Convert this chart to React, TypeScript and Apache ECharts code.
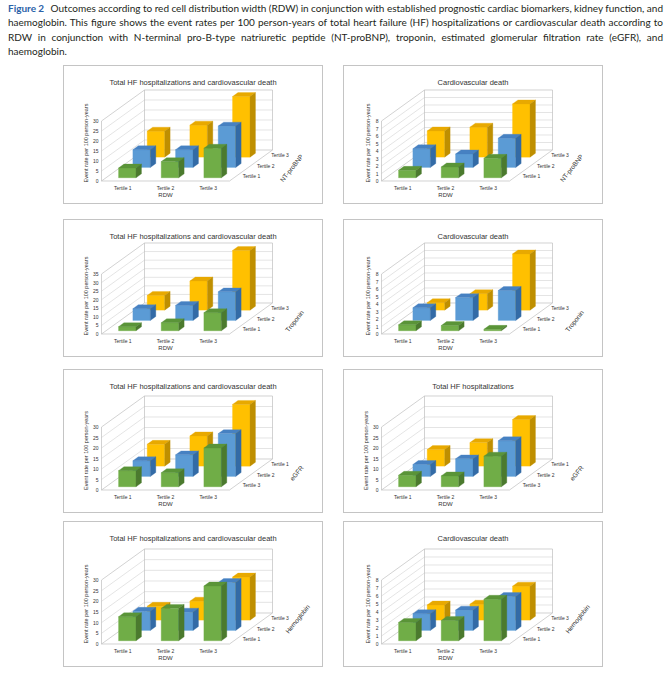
"use client"

import { useEffect, useLayoutEffect, useRef } from "react"
import * as echarts from "echarts"

// caption, one entry per printed line
const captionLines = [
  "Outcomes according to red cell distribution width (RDW) in conjunction with established prognostic cardiac biomarkers, kidney function, and",
  "haemoglobin. This figure shows the event rates per 100 person-years of total heart failure (HF) hospitalizations or cardiovascular death according to",
  "RDW in conjunction with N-terminal pro-B-type natriuretic peptide (NT-proBNP), troponin, estimated glomerular filtration rate (eGFR), and",
  "haemoglobin.",
]

const rdwTertiles = ["Tertile 1", "Tertile 2", "Tertile 3"]
// depth axis labels, listed front row first
const depthAscending = ["Tertile 1", "Tertile 2", "Tertile 3"]
const depthDescending = ["Tertile 3", "Tertile 2", "Tertile 1"]

const ticksTo30 = [0, 5, 10, 15, 20, 25, 30]
const ticksTo35 = [0, 5, 10, 15, 20, 25, 30, 35]
const ticksTo8 = [0, 1, 2, 3, 4, 5, 6, 7, 8]

// event rates per 100 person-years; rows front (green) to back (yellow), columns RDW tertile 1..3
const ntprobnpHfCv = [[4.9, 8.1, 14.8], [8.9, 8.9, 20.7], [13, 16, 30.3]]
const ntprobnpCv = [[1.0, 1.45, 2.6], [2.5, 1.8, 3.9], [3.5, 4.0, 7.1]]
const troponinHfCv = [[2.4, 4.7, 10.6], [6.9, 8.8, 16.7], [8.6, 17, 34.8]]
const troponinCv = [[0.8, 0.7, 0.2], [1.7, 3.05, 4.0], [1.0, 2.2, 7.5]]
const egfrHfCv = [[7.7, 6.7, 18.5], [7.5, 10.3, 20.4], [10.4, 14.4, 29.4]]
const egfrHf = [[5.5, 5.2, 14.6], [5.7, 8.4, 17], [7.9, 11.2, 22.2]]
const haemoglobinHfCv = [[11.3, 15.2, 25.7], [9, 8.6, 22.5], [6.5, 8.9, 20.2]]
const haemoglobinCv = [[2.3, 2.55, 5.2], [2.1, 2.55, 4.25], [1.9, 2.0, 4.25]]

const FONT = "Liberation Sans, Arial, sans-serif"
const TEXT = "#333333"
const faces = [
  { front: "#70AD47", top: "#5A9438", side: "#4B7A2E" },
  { front: "#5B9BD5", top: "#4681C2", side: "#336BA6" },
  { front: "#FFC000", top: "#E8A900", side: "#BF8F00" },
]
// oblique offset of the full depth (3 rows)
const DX = 43
const DY = -31

interface PanelProps {
  title: string
  rows: number[][]
  ticks: number[]
  depthName: string
  depthLabels: string[]
  left: number
  top: number
  height: number
  nameShift: [number, number]
}

function Panel({ title, rows, ticks, depthName, depthLabels, left, top, height, nameShift }: PanelProps) {
  const chartRef = useRef<HTMLDivElement>(null)

  useEffect(() => {
    if (!chartRef.current) return
    const chart = echarts.init(chartRef.current, null, { renderer: "svg" })

    const floorY = height - 24
    const plotH = Math.round(height * 0.435)
    const max = ticks[ticks.length - 1]
    const step = ticks[1] - ticks[0]

    const edges = (api: any) => {
      const cw = api.size([1, 0])[0]
      const p0 = api.coord([0, 0])
      const pm = api.coord([0, max])
      const l = p0[0] - cw / 2
      return { l, r: l + 3 * cw, y0: p0[1], ym: pm[1] }
    }
    const line = (x1: number, y1: number, x2: number, y2: number, stroke: string) => ({
      type: "line",
      shape: { x1, y1, x2, y2 },
      style: { stroke, lineWidth: 0.7 },
      silent: true,
    })

    // grid lines on the left wall and the back wall
    const wallSeries = {
      type: "custom",
      z: 1,
      clip: false,
      silent: true,
      data: ticks.map((t) => [0, t]),
      renderItem: (_: any, api: any) => {
        const { l, r } = edges(api)
        const v = api.value(1)
        const y = api.coord([0, v])[1]
        const c = v === 0 || v === max ? "#bfbfbf" : "#d9d9d9"
        return {
          type: "group",
          children: [line(l, y, l + DX, y + DY, c), line(l + DX, y + DY, r + DX, y + DY, c)],
        }
      },
    }

    // outline of the box and the depth axis
    const frameSeries = {
      type: "custom",
      z: 1,
      clip: false,
      silent: true,
      data: [[0, 0]],
      renderItem: (_: any, api: any) => {
        const { l, r, y0, ym } = edges(api)
        const c = "#bfbfbf"
        const children: any[] = [
          line(l, y0, l, ym, c),
          line(l + DX, y0 + DY, l + DX, ym + DY, c),
          line(r + DX, y0 + DY, r + DX, ym + DY, c),
          line(l, y0, r, y0, c),
          line(r, y0, r + DX, y0 + DY, c),
        ]
        depthLabels.forEach((label, i) => {
          const f = (i + 0.5) / 3
          children.push({
            type: "text",
            x: r + f * DX + 6,
            y: y0 + f * DY,
            style: { text: label, fill: TEXT, fontSize: 5, fontFamily: FONT, align: "left", verticalAlign: "middle" },
          })
        })
        children.push({
          type: "text",
          x: r + DX + nameShift[0],
          y: y0 - nameShift[1],
          rotation: 0.9,
          style: { text: depthName, fill: TEXT, fontSize: 6.5, fontFamily: FONT, align: "center", verticalAlign: "middle" },
        })
        return { type: "group", children }
      },
    }

    const barSeries = rows.map((vals, row) => ({
      type: "custom",
      name: depthLabels[row],
      z: 4 - row,
      clip: false,
      data: vals.map((v, i) => [i, v]),
      renderItem: (_: any, api: any) => {
        const cat = api.value(0)
        const v = api.value(1)
        const cw = api.size([1, 0])[0]
        const bw = cw * 0.41
        const base = api.coord([cat, 0])
        const peak = api.coord([cat, v])
        const fz = (row + 0.31) / 3
        const bz = (row + 0.69) / 3
        const x1 = base[0] - bw / 2 + fz * DX
        const x2 = x1 + bw
        const yb = base[1] + fz * DY
        const yt = peak[1] + fz * DY
        const dx = (bz - fz) * DX
        const dy = (bz - fz) * DY
        const poly = (points: number[][], fill: string) => ({
          type: "polygon",
          shape: { points },
          style: { fill, stroke: fill, lineWidth: 0.3 },
        })
        const f = faces[row]
        return {
          type: "group",
          children: [
            poly([[x1, yt], [x2, yt], [x2, yb], [x1, yb]], f.front),
            poly([[x1, yt], [x2, yt], [x2 + dx, yt + dy], [x1 + dx, yt + dy]], f.top),
            poly([[x2, yt], [x2 + dx, yt + dy], [x2 + dx, yb + dy], [x2, yb]], f.side),
          ],
        }
      },
    }))

    chart.setOption({
      animation: false,
      title: {
        text: title,
        left: "center",
        top: 7,
        textStyle: { fontSize: 7.5, fontWeight: "normal", color: TEXT, fontFamily: FONT },
      },
      grid: { left: 37.5, width: 128, top: floorY - plotH, height: plotH },
      xAxis: {
        type: "category",
        data: rdwTertiles,
        axisLine: { show: false },
        axisTick: { show: false },
        axisLabel: { fontSize: 5, color: TEXT, margin: 4, fontFamily: FONT },
        name: "RDW",
        nameLocation: "middle",
        nameGap: 11,
        nameTextStyle: { fontSize: 6, color: TEXT, fontFamily: FONT },
      },
      yAxis: {
        type: "value",
        min: 0,
        max,
        interval: step,
        axisLine: { show: false },
        axisTick: { show: false },
        splitLine: { show: false },
        axisLabel: { fontSize: 5, color: TEXT, margin: 3, fontFamily: FONT },
        name: "Event rate per 100 person-years",
        nameLocation: "middle",
        nameRotate: 90,
        nameGap: 11,
        nameTextStyle: { fontSize: 5.5, color: TEXT, fontFamily: FONT, padding: [0, 0, 0, 16] },
      },
      series: [wallSeries, frameSeries, ...barSeries],
    })

    return () => {
      chart.dispose()
    }
  }, [title, rows, ticks, depthName, depthLabels, height, nameShift])

  return (
    <div
      style={{
        position: "absolute",
        left,
        top,
        width: 260,
        height,
        border: "1px solid #c4c4c4",
        boxSizing: "border-box",
        background: "#fff",
      }}
    >
      <div ref={chartRef} style={{ width: 258, height: height - 2 }} />
    </div>
  )
}

const panels: PanelProps[] = [
  { title: "Total HF hospitalizations and cardiovascular death", rows: ntprobnpHfCv, ticks: ticksTo30, depthName: "NT-proBNP", depthLabels: depthAscending, left: 63, top: 65, height: 139, nameShift: [19, 13] },
  { title: "Cardiovascular death", rows: ntprobnpCv, ticks: ticksTo8, depthName: "NT-proBNP", depthLabels: depthAscending, left: 343, top: 65, height: 139, nameShift: [19, 13] },
  { title: "Total HF hospitalizations and cardiovascular death", rows: troponinHfCv, ticks: ticksTo35, depthName: "Troponin", depthLabels: depthAscending, left: 63, top: 219, height: 138, nameShift: [22, 13] },
  { title: "Cardiovascular death", rows: troponinCv, ticks: ticksTo8, depthName: "Troponin", depthLabels: depthAscending, left: 343, top: 219, height: 138, nameShift: [22, 13] },
  { title: "Total HF hospitalizations and cardiovascular death", rows: egfrHfCv, ticks: ticksTo30, depthName: "eGFR", depthLabels: depthDescending, left: 63, top: 369, height: 144, nameShift: [24, 17] },
  { title: "Total HF hospitalizations", rows: egfrHf, ticks: ticksTo30, depthName: "eGFR", depthLabels: depthDescending, left: 343, top: 369, height: 144, nameShift: [24, 17] },
  { title: "Total HF hospitalizations and cardiovascular death", rows: haemoglobinHfCv, ticks: ticksTo30, depthName: "Hemoglobin", depthLabels: depthAscending, left: 63, top: 521, height: 146, nameShift: [25, 25] },
  { title: "Cardiovascular death", rows: haemoglobinCv, ticks: ticksTo8, depthName: "Hemoglobin", depthLabels: depthAscending, left: 343, top: 521, height: 146, nameShift: [25, 25] },
]

function Caption() {
  const boxRef = useRef<HTMLDivElement>(null)

  // stretch the word spacing so that every line but the last is justified
  useLayoutEffect(() => {
    if (!boxRef.current) return
    const lines = Array.from(boxRef.current.querySelectorAll<HTMLSpanElement>("span.cap-line"))
    lines.forEach((el, i) => {
      if (i === lines.length - 1) return
      el.style.wordSpacing = "0px"
      const w = el.getBoundingClientRect().width
      const gaps = (el.textContent || "").split(" ").length - 1
      if (gaps > 0) el.style.wordSpacing = `${(655 - w) / gaps}px`
    })
  }, [])

  return (
    <div
      ref={boxRef}
      style={{
        position: "absolute",
        left: 8,
        top: 1,
        width: 656,
        fontFamily: "Lato, 'Open Sans', sans-serif",
        fontSize: 10,
        lineHeight: "14.4px",
        color: "#231f20",
      }}
    >
      {captionLines.map((text, i) => (
        <div key={i} style={{ height: 14.4, whiteSpace: "nowrap" }}>
          <span className="cap-line" style={{ display: "inline-block", whiteSpace: "nowrap" }}>
            {i === 0 && <b style={{ color: "#2b62a8", marginRight: 4 }}>Figure 2</b>}
            {i === 0 && " "}
            {text}
          </span>
        </div>
      ))}
    </div>
  )
}

export default function App() {
  return (
    <div style={{ position: "absolute", left: 0, top: 0, width: 672, height: 680, background: "#fff" }}>
      <Caption />
      {panels.map((p, i) => (
        <Panel key={i} {...p} />
      ))}
    </div>
  )
}
